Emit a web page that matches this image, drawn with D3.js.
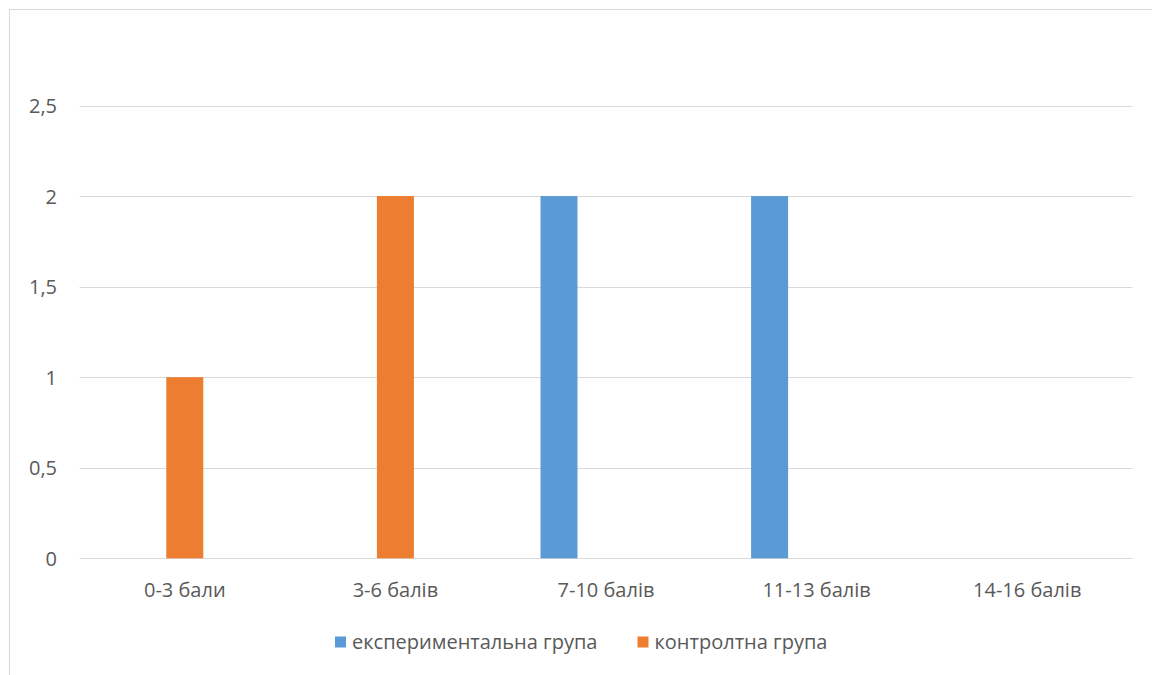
<!DOCTYPE html>
<html>
<head>
<meta charset="utf-8">
<script src="https://cdn.jsdelivr.net/npm/d3@7"></script>
<style>
  html, body { margin: 0; padding: 0; background: #fff; }
  svg { display: block; }
  text { font-family: "Open Sans", "Noto Sans", sans-serif; fill: #595959; }
</style>
</head>
<body>
<svg id="chart" width="1152" height="675"></svg>
<script>
// Score ranges and the number of students per group in each range
const categories = ["0-3 бали", "3-6 балів", "7-10 балів", "11-13 балів", "14-16 балів"];
const seriesNames = ["експериментальна група", "контролтна група"];
const experimental = [0, 0, 2, 2, 0];
const control = [1, 2, 0, 0, 0];
const yTicks = [0, 0.5, 1, 1.5, 2, 2.5];
const colors = ["#5B9BD5", "#ED7D31"];

const svg = d3.select("#chart");
const W = 1152, H = 675;
const FONT = 20;

// Chart frame (only the top and left edges fall inside the view)
svg.append("rect")
  .attr("x", 9.5).attr("y", 9.5)
  .attr("width", W + 20).attr("height", H + 20)
  .attr("fill", "#fff").attr("stroke", "#d9d9d9").attr("stroke-width", 1);

const plot = { left: 79.5, right: 1132.5, top: 105.5, bottom: 558.3 };

const x = d3.scaleBand().domain(categories).range([plot.left, plot.right]).paddingInner(0).paddingOuter(0);
const y = d3.scaleLinear().domain([0, 2.5]).range([plot.bottom, plot.top]);

// Bars within a category, offset from the category centre
const inner = d3.scaleBand().domain(seriesNames).range([-65.5, 18.5]).paddingInner(0.213).paddingOuter(0);

const fmt = v => String(v).replace(".", ",");

// Horizontal gridlines
svg.append("g").selectAll("line").data(yTicks).join("line")
  .attr("x1", plot.left).attr("x2", plot.right)
  .attr("y1", d => Math.round(y(d)) + 0.5).attr("y2", d => Math.round(y(d)) + 0.5)
  .attr("stroke", "#d9d9d9").attr("stroke-width", 1);

// Y axis labels
svg.append("g").selectAll("text").data(yTicks).join("text")
  .attr("x", 57).attr("y", d => y(d))
  .attr("text-anchor", "end").attr("dominant-baseline", "central")
  .attr("font-size", FONT)
  .text(fmt);

// Bars
const series = [experimental, control];
series.forEach((vals, si) => {
  svg.append("g").selectAll("rect")
    .data(vals.map((v, i) => ({ cat: categories[i], v })).filter(d => d.v > 0))
    .join("rect")
    .attr("x", d => x(d.cat) + x.bandwidth() / 2 + inner(seriesNames[si]))
    .attr("width", inner.bandwidth())
    .attr("y", d => y(d.v))
    .attr("height", d => y(0) - y(d.v))
    .attr("fill", colors[si]);
});

// X axis labels
svg.append("g").selectAll("text").data(categories).join("text")
  .attr("x", d => x(d) + x.bandwidth() / 2)
  .attr("y", 589)
  .attr("text-anchor", "middle").attr("dominant-baseline", "central")
  .attr("font-size", FONT)
  .text(d => d);

// Legend
const legend = svg.append("g");
const legendX = [335, 637.5];
seriesNames.forEach((name, i) => {
  legend.append("rect")
    .attr("x", legendX[i]).attr("y", 636.5)
    .attr("width", 11).attr("height", 11)
    .attr("fill", colors[i]);
  legend.append("text")
    .attr("x", legendX[i] + 17).attr("y", 641)
    .attr("dominant-baseline", "central")
    .attr("font-size", FONT)
    .text(name);
});
</script>
</body>
</html>
